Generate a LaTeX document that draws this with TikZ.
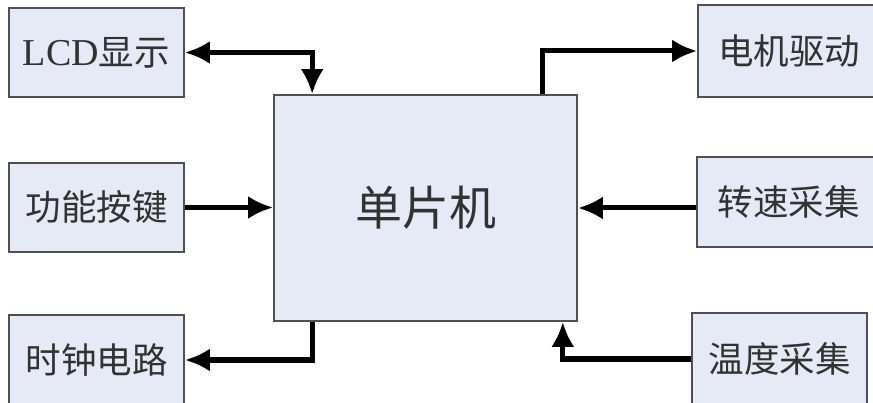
\documentclass[tikz,border=0pt]{standalone}
\usepackage{fontspec}
\setmainfont{Liberation Serif}
\newfontfamily\cjk{Noto Sans CJK SC}
\usetikzlibrary{arrows.meta,positioning,calc}
\definecolor{boxfill}{RGB}{229,234,246}
\definecolor{boxline}{RGB}{80,80,80}
\definecolor{txt}{RGB}{50,50,50}
\tikzset{blk/.style={draw=boxline, line width=1.6pt, fill=boxfill, text=txt, inner sep=0pt, font=\fontsize{35.5}{40}\selectfont\cjk}}
\tikzset{arr/.style={draw, line width=5pt, -{Latex[length=25pt,width=23pt]}}}

\begin{document}
\begin{tikzpicture}[x=1pt,y=-1pt]
			\useasboundingbox (0,0) rectangle (873,403);
			\node[blk, minimum width=175, minimum height=89] (lcd) at (96.5,52.5){{\rmfamily\fontsize{38}{40}\selectfont LCD}显示};
			\node[blk, minimum width=175, minimum height=89] (key) at (96.5,207.5){功能按键};
			\node[blk, minimum width=175, minimum height=90] (clk) at (96.5,360){时钟电路};
			
			\node[blk, minimum width=303, minimum height=226, font=\fontsize{47}{52}\selectfont\cjk] (mcu) at (425.5,208){单片机};
			
			\node[blk, minimum width=182, minimum height=92] (motor) at (789,51){电机驱动};
			\node[blk, minimum width=183, minimum height=90] (speed) at (788.5,202){转速采集};
			\node[blk, minimum width=175, minimum height=92] (temp) at (779.5,359){温度采集};
			
			\draw[arr, {Latex[length=25pt,width=23pt]}-{Latex[length=25pt,width=23pt]}] (lcd.east) -| ([xshift=39]mcu.north west);
			\draw[arr] ([xshift=-35]mcu.north east) |- (motor.west);
			\draw[arr] (key.east) -- (key.east -| mcu.west);
			\draw[arr] (mcu.east -| speed.west) -- (mcu.east);
			\draw[arr] ([xshift=39]mcu.south west) |- (clk.east);
			\draw[arr] (temp.west) -| ([xshift=-15]mcu.south east);
		\end{tikzpicture}
\end{document}
